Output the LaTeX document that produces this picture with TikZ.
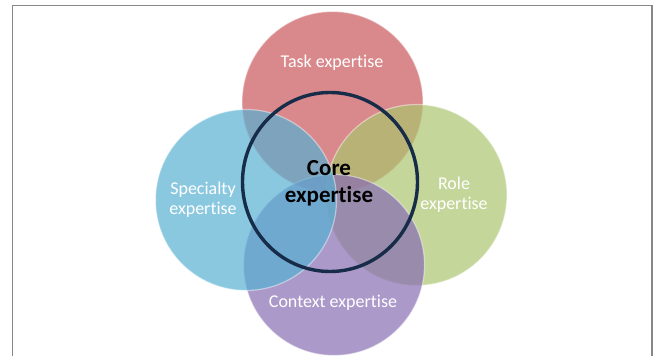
\documentclass[tikz,border=0pt]{standalone}
\usepackage{fontspec}
\setmainfont{Carlito}[Ligatures=NoCommon]
\usepackage{xcolor}
\usetikzlibrary{shapes.geometric}

\definecolor{taskred}{RGB}{201,86,91}
\definecolor{specblue}{RGB}{88,176,211}
\definecolor{rolegreen}{RGB}{171,196,111}
\definecolor{ctxpurple}{RGB}{136,109,179}
\definecolor{corenavy}{RGB}{22,44,72}
\definecolor{framegray}{RGB}{135,135,135}

\begin{document}
\begin{tikzpicture}[x=1pt,y=-1pt,
					disc/.style={circle, inner sep=0pt, minimum size=181pt, draw=white, draw opacity=0.45, line width=1.2pt, fill opacity=0.7},
					ring/.style={ellipse, inner sep=0pt, minimum width=175pt, minimum height=179pt, draw=corenavy, line width=3.4pt},
					lbl/.style={text=white, align=center, font=\fontsize{18}{20}\selectfont}]
    \useasboundingbox (0,0) rectangle (657,356);
    % Frame
    \draw[framegray, line width=1.4pt] (12.5,357) -- (12.5,5.5) -- (652,5.5) -- (652,357);
    % Place circles
    \node [disc, fill=taskred] (task) at (332.5,102){};
    \node [disc, fill=rolegreen] (role) at (416.5,195){};
    \node [disc, fill=ctxpurple] (context) at (334,265){};
    \node [disc, fill=specblue] (specialty) at (246,200){};
    \node [ring] (core) at (330,182){};
    % Place labels
    \node [lbl] (tasktext) at (332,63){Task expertise};
    \node [lbl] (roletext) at (454,195){Role\\expertise};
    \node [lbl] (contexttext) at (333,303){Context expertise};
    \node [lbl] (specialtytext) at (203,200){Specialty\\expertise};
    \node [lbl, text=black, font=\bfseries\fontsize{23}{27}\selectfont] (coretext) at (329,183){Core\\expertise};
\end{tikzpicture}
\end{document}
